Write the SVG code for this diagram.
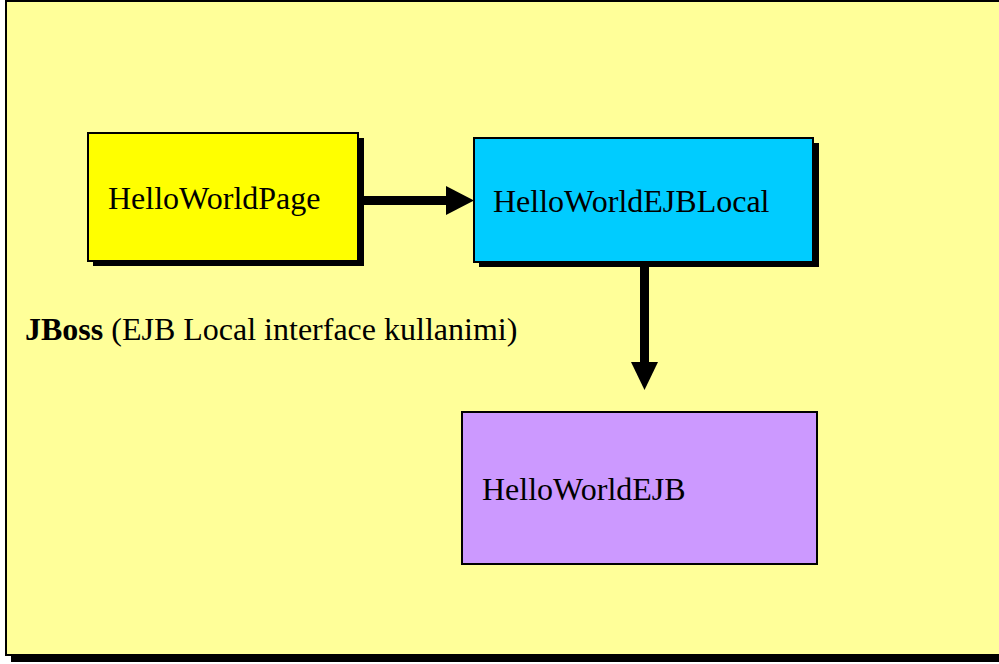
<svg xmlns="http://www.w3.org/2000/svg" width="999" height="664" viewBox="0 0 999 664">
<style>
.t{font-family:"Liberation Serif","Times New Roman",serif;font-size:32px;fill:#000}
.b{stroke:#000;stroke-width:2}
.sh{fill:#000}
</style>
<rect x="0" y="0" width="999" height="664" fill="#fff"/>
<g id="frame">
<rect class="sh" x="11" y="6" width="990" height="656"/>
<rect x="6" y="1" width="1000" height="654" fill="#ffff99" class="b"/>
</g>
<g id="connectors">
<rect x="364" y="196" width="84" height="9" fill="#000"/>
<polygon points="446,186 474,200.5 446,215" fill="#000"/>
<rect x="640" y="262" width="9" height="102" fill="#000"/>
<polygon points="631,362 658,362 644.5,390" fill="#000"/>
</g>
<g id="HelloWorldPage">
<rect class="sh" x="93" y="138" width="271" height="128"/>
<rect x="88" y="133" width="270" height="128" fill="#ffff00" class="b"/>
<text class="t" x="108" y="209">HelloWorldPage</text>
</g>
<g id="HelloWorldEJBLocal">
<rect class="sh" x="479" y="143" width="340" height="124"/>
<rect x="474" y="138" width="339" height="124" fill="#00ccff" class="b"/>
<text class="t" x="493" y="212">HelloWorldEJBLocal</text>
</g>
<g id="HelloWorldEJB">
<rect x="462" y="412" width="355" height="152" fill="#cc99ff" class="b"/>
<text class="t" x="482" y="500">HelloWorldEJB</text>
</g>
<g id="label">
<text class="t" x="25" y="340"><tspan font-weight="bold">JBoss</tspan> (EJB Local interface kullanimi)</text>
</g>
</svg>
